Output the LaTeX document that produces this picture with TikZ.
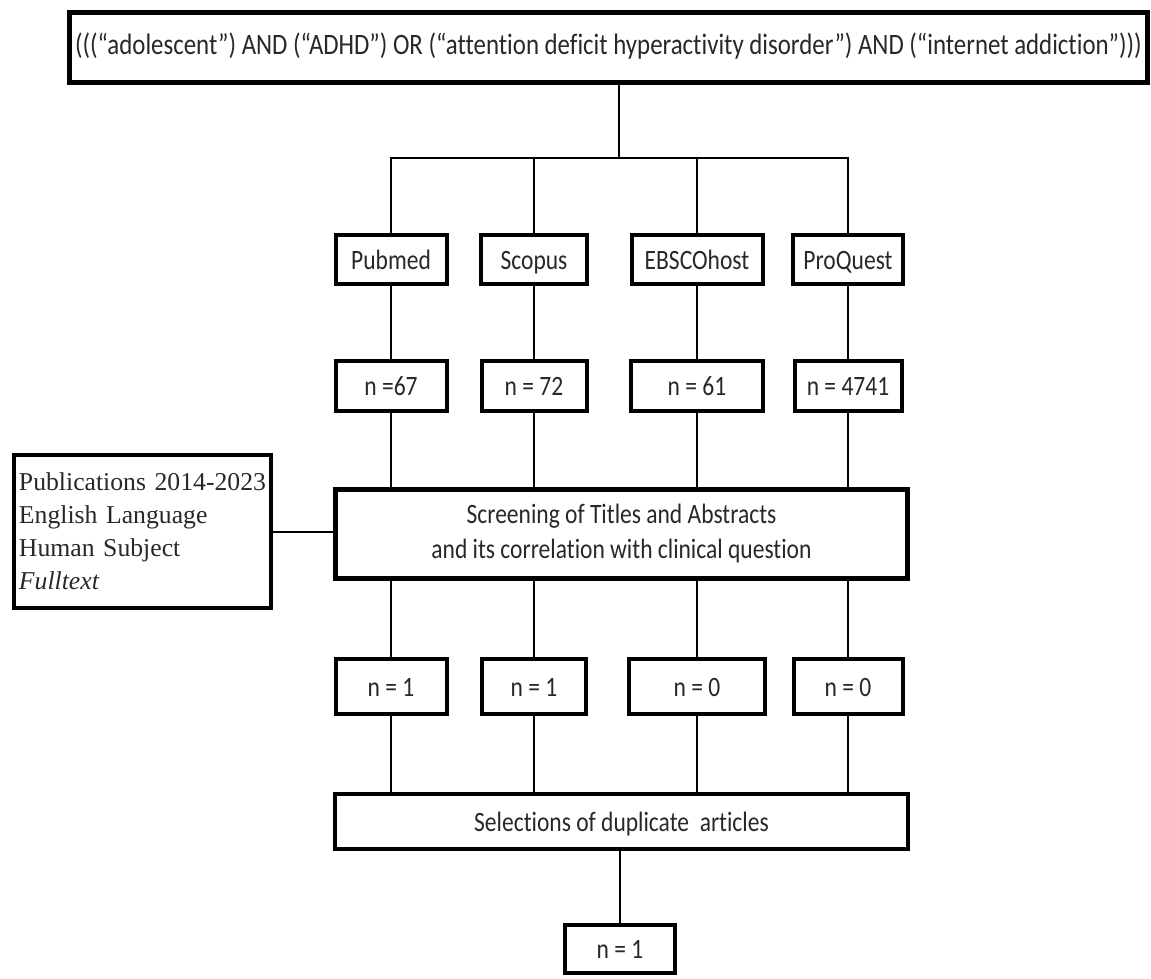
\documentclass[tikz,border=0pt]{standalone}
\usepackage{fontspec}
\setmainfont{Carlito}
\newfontfamily\dbfont[FakeStretch=0.84,Ligatures=NoCommon]{Carlito}
\newfontfamily\serfont{Liberation Serif}
\definecolor{txt}{RGB}{40,40,40}
\begin{document}
\begin{tikzpicture}[x=1pt,y=-1pt,
  box/.style={draw=black, line width=4pt, fill=white, inner sep=0pt, text=txt,
    font=\dbfont\fontsize{28}{35}\selectfont},
  lab/.style={text height=22pt, text depth=3pt},
  conn/.style={draw=black, line width=2pt}]
\fill[white] (0,0) rectangle (1151,979);
\useasboundingbox (0,0) rectangle (1151,979);

% top query box
\node[box, text height=21pt, text depth=6pt, line width=5pt, minimum width=1078pt, minimum height=70pt,
  font=\dbfont\fontsize{29.6}{36}\selectfont] (top) at (608.5,47.5)
  {(((“adolescent”) AND (“ADHD”) OR (“attention deficit hyperactivity disorder”) AND (“internet addiction”)))};

% databases
\node[box, lab, minimum width=111pt, minimum height=49pt] (pub) at (391,259.5) {Pubmed};
\node[box, lab, minimum width=106pt, minimum height=49pt] (sco) at (534,259.5) {Scopus};
\node[box, lab, minimum width=131pt, minimum height=49pt] (ebs) at (697,259.5) {EBSCOhost};
\node[box, lab, minimum width=110pt, minimum height=49pt] (pq)  at (848,259.5) {ProQuest};

% first counts
\node[box, lab, minimum width=111pt, minimum height=50pt] (na) at (391,386) {n =67};
\node[box, lab, minimum width=105pt, minimum height=50pt] (nb) at (534,386) {n = 72};
\node[box, lab, minimum width=132pt, minimum height=50pt] (nc) at (697,386) {n = 61};
\node[box, lab, minimum width=107pt, minimum height=50pt] (nd) at (848,386) {n = 4741};

% screening
\node[box, line width=5pt, minimum width=572pt, minimum height=89pt, align=center] (scr) at (621.5,534)
  {Screening of Titles and Abstracts\\and its correlation with clinical question};

% criteria box
\node[box, minimum width=257pt, minimum height=153pt, inner xsep=5pt, text width=247pt, align=left,
  font=\serfont\fontsize{25.7}{33}\selectfont] (crit) at (142.5,531.5)
  {Publications 2014-2023\\English Language\\Human Subject\\\textit{Fulltext}};

% second counts
\node[box, lab, minimum width=111pt, minimum height=55pt] (ma) at (391,686.5) {n = 1};
\node[box, lab, minimum width=104pt, minimum height=55pt] (mb) at (534,686.5) {n = 1};
\node[box, lab, minimum width=136pt, minimum height=55pt] (mc) at (697,686.5) {n = 0};
\node[box, lab, minimum width=109pt, minimum height=55pt] (md) at (848,686.5) {n = 0};

% selections
\node[box, lab, minimum width=573pt, minimum height=55pt] (sel) at (621.5,821.5)
  {Selections of duplicate\ \ articles};

% final
\node[box, lab, minimum width=110pt, minimum height=48pt] (fin) at (620,949) {n = 1};

% connectors
\coordinate (tj) at (619,158);
\draw[conn] (top.south -| tj) -- (tj);
\draw[conn] (pub.north) -- (pub.north |- tj) -- (pq.north |- tj) -- (pq.north);
\draw[conn] (sco.north) -- (sco.north |- tj);
\draw[conn] (ebs.north) -- (ebs.north |- tj);

\foreach \a/\b in {pub/na, sco/nb, ebs/nc, pq/nd}
  \draw[conn] (\a.south) -- (\b.north);
\foreach \a in {na, nb, nc, nd}
  \draw[conn] (\a.south) -- (\a.south |- scr.north);
\foreach \a in {ma, mb, mc, md}
  \draw[conn] (scr.south -| \a.north) -- (\a.north);
\foreach \a in {ma, mb, mc, md}
  \draw[conn] (\a.south) -- (\a.south |- sel.north);
\draw[conn] (sel.south -| fin.north) -- (fin.north);
\draw[conn] (crit.east) -- (crit.east -| scr.west);
\end{tikzpicture}
\end{document}
